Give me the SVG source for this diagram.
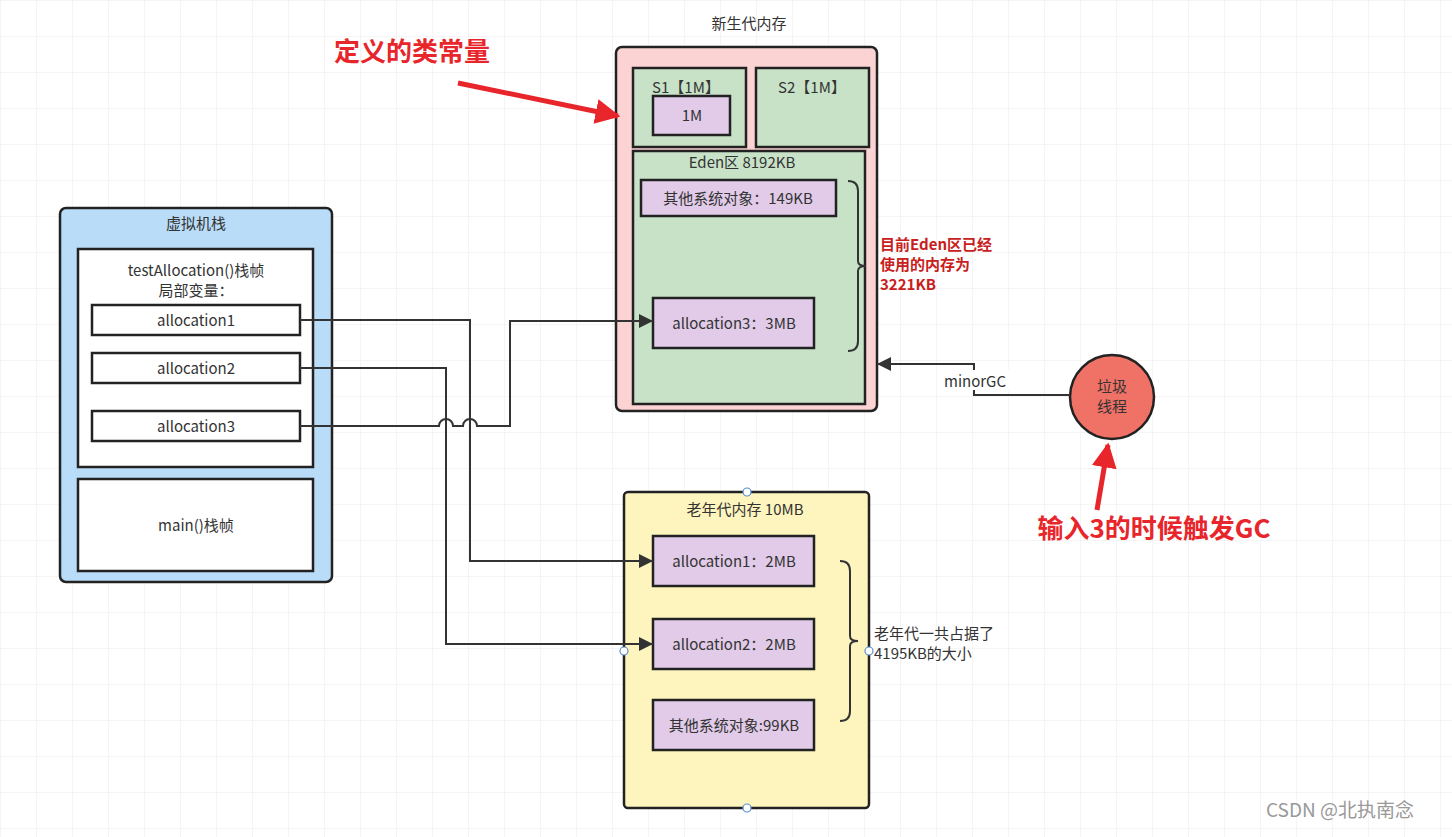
<svg xmlns="http://www.w3.org/2000/svg" width="1452" height="837" viewBox="0 0 1452 837">
<defs>
<pattern id="g" width="36" height="36" patternUnits="userSpaceOnUse"><path d="M36 0H0V36" fill="none" stroke="#ececec" stroke-width="1"/></pattern>
<marker id="a" viewBox="0 0 10 10" refX="10" refY="5" markerWidth="7" markerHeight="7" orient="auto"><path d="M0 0L10 5L0 10z" fill="#333"/></marker>
<marker id="r" viewBox="0 0 10 10" refX="9" refY="5" markerWidth="5" markerHeight="5" orient="auto"><path d="M0 0L10 5L0 10z" fill="#e8252b"/></marker>
</defs>
<style>
text{font-family:"Noto Sans CJK SC","Noto Sans",sans-serif;font-size:15px;fill:#333;text-anchor:middle}
.b{stroke:#222;stroke-width:2.5}
.p{fill:#e1cbe8}
.w{fill:#fff}
.gr{fill:#c8e2c8}
.c{fill:none;stroke:#333;stroke-width:2}
.red{fill:#e8252b;font-weight:bold;font-size:26px}
.rd{fill:#c8201c;font-weight:bold;font-size:15px;text-anchor:start}
</style>
<rect width="1452" height="837" fill="#fff"/>
<rect width="1452" height="837" fill="url(#g)"/>
<g id="stack">
<rect x="60" y="208" width="272" height="374" rx="6" fill="#b9dcf8" class="b"/>
<text x="196" y="229">虚拟机栈</text>
<rect x="78" y="249" width="235" height="218" class="w b"/>
<text x="196" y="276">testAllocation()栈帧</text>
<text x="196" y="296">局部变量：</text>
<rect x="92" y="305" width="208" height="30" class="w b"/><text x="196" y="326">allocation1</text>
<rect x="92" y="353" width="208" height="30" class="w b"/><text x="196" y="374">allocation2</text>
<rect x="92" y="411" width="208" height="30" class="w b"/><text x="196" y="432">allocation3</text>
<rect x="78" y="479" width="235" height="92" class="w b"/><text x="196" y="531">main()栈帧</text>
</g>
<g id="young">
<text x="749" y="29">新生代内存</text>
<rect x="616" y="47" width="261" height="364" rx="6" fill="#fbd3d3" class="b"/>
<rect x="633" y="68" width="113" height="79" class="gr b"/><text x="686" y="93">S1【1M】</text>
<rect x="653" y="96" width="77" height="39" class="p b"/><text x="692" y="121">1M</text>
<rect x="756" y="68" width="113" height="79" class="gr b"/><text x="812" y="93">S2【1M】</text>
<rect x="633" y="151" width="232" height="253" class="gr b"/><text x="742" y="168">Eden区 8192KB</text>
<rect x="641" y="180" width="195" height="36" class="p b"/><text x="738" y="204">其他系统对象：149KB</text>
<rect x="653" y="298" width="161" height="50" class="p b"/><text x="734" y="329">allocation3：3MB</text>
<path class="c" d="M848 181q10 0 10 10v70q0 5 8 5q-8 0-8 5v70q0 10-10 10"/>
<text x="880" y="250" class="rd">目前Eden区已经</text>
<text x="880" y="270" class="rd">使用的内存为</text>
<text x="880" y="290" class="rd">3221KB</text>
</g>
<g id="old">
<rect x="624" y="492" width="245" height="316" rx="4" fill="#fdf5bd" class="b"/>
<text x="745" y="515">老年代内存 10MB</text>
<rect x="653" y="536" width="161" height="50" class="p b"/><text x="734" y="567">allocation1：2MB</text>
<rect x="653" y="619" width="161" height="50" class="p b"/><text x="734" y="650">allocation2：2MB</text>
<rect x="653" y="700" width="161" height="50" class="p b"/><text x="734" y="731">其他系统对象:99KB</text>
<path class="c" d="M840 561q10 0 10 10v65q0 5 8 5q-8 0-8 5v65q0 10-10 10"/>
<text x="874" y="639" style="text-anchor:start">老年代一共占据了</text>
<text x="874" y="659" style="text-anchor:start">4195KB的大小</text>
<g fill="#fff" stroke="#5b8fd0" stroke-width="1.2"><circle cx="747" cy="492" r="4"/><circle cx="624" cy="651" r="4"/><circle cx="869" cy="651" r="4"/><circle cx="747" cy="808" r="4"/></g>
</g>
<g id="gc">
<circle cx="1112" cy="397" r="42" fill="#f07166" class="b"/>
<text x="1112" y="392">垃圾</text><text x="1112" y="412">线程</text>
</g>
<g id="connectors">
<path class="c" marker-end="url(#a)" d="M300 320H470V561H653"/>
<path class="c" marker-end="url(#a)" d="M300 368H446V644H653"/>
<path class="c" marker-end="url(#a)" d="M300 426H439a7 7 0 0 1 14 0H463a7 7 0 0 1 14 0H510V321H653"/>
<path class="c" marker-end="url(#a)" d="M1070 395H974V364H877"/>
<rect x="938" y="370" width="72" height="20" fill="#fff"/>
<text x="975" y="387">minorGC</text>
<path stroke="#e8252b" stroke-width="5" fill="none" marker-end="url(#r)" d="M458 83L618 116"/>
<path stroke="#e8252b" stroke-width="5" fill="none" marker-end="url(#r)" d="M1097 510L1108 445"/>
</g>
<text x="412" y="61" class="red">定义的类常量</text>
<text x="1154" y="538" class="red">输入3的时候触发GC</text>
<text x="1340" y="817" style="fill:#999;font-size:19px">CSDN @北执南念</text>
</svg>
